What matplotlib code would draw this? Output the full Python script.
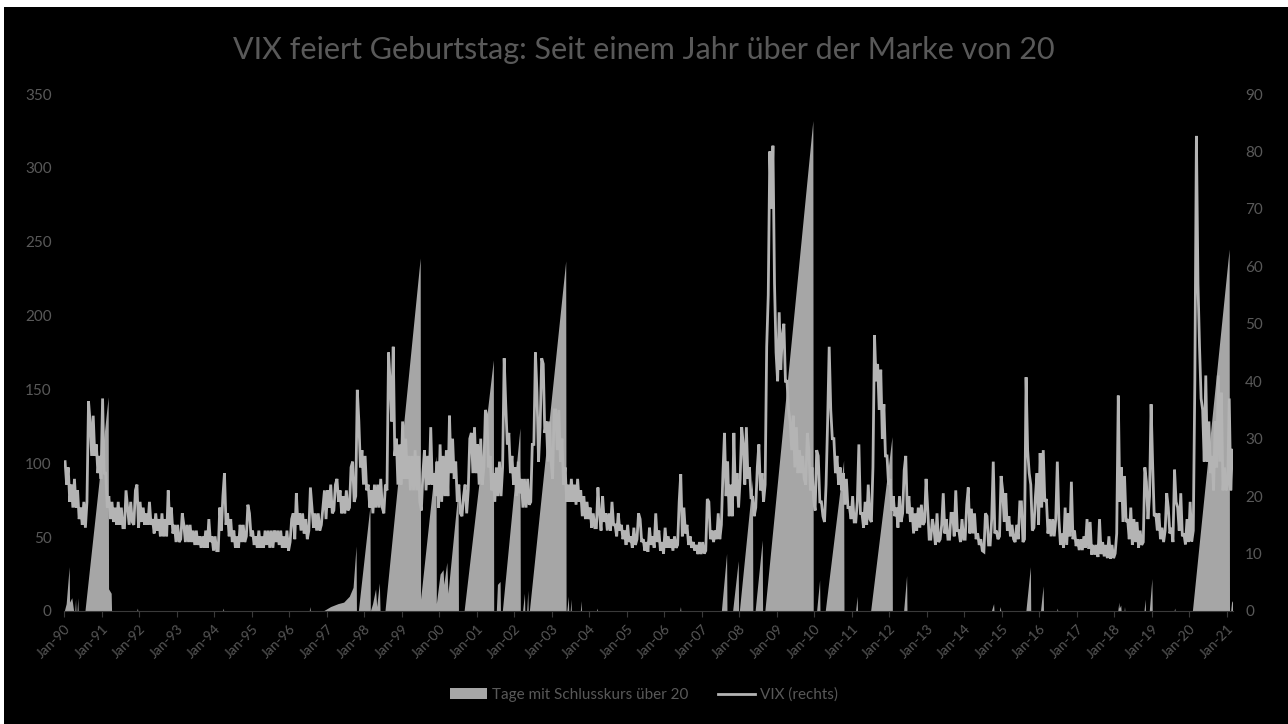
import numpy as np
import matplotlib
matplotlib.use("Agg")
import matplotlib.pyplot as plt
from matplotlib.patches import Rectangle, Patch
from matplotlib.lines import Line2D

plt.rcParams['font.family'] = ['Lato', 'DejaVu Sans']

TITLE = "VIX feiert Geburtstag: Seit einem Jahr über der Marke von 20"
LABEL_DAYS = "Tage mit Schlusskurs über 20"
LABEL_VIX = "VIX (rechts)"

START_YEAR = 1990

# VIX close: value in the first half / second half of each month
# (Jan 1990 .. Feb 2021)
vix_a = [
    26, 25, 22, 23, 21, 18, 19, 19, 33, 34, 29, 27,            # 1990
    37, 24, 20, 19, 18, 19, 18, 14.5, 18, 19, 15, 22,          # 1991
    19, 18, 17, 19, 16, 17, 16, 17, 16, 21, 18, 15,            # 1992
    15, 12.5, 15, 15, 15, 14, 14, 13, 13, 14, 16, 13,          # 1993
    13, 10.5, 14, 24, 17, 16, 14, 13, 15, 15, 13, 17,          # 1994
    14, 13, 14, 13, 14, 14, 14, 14, 14, 14, 13, 14,            # 1995
    12, 17, 20.5, 17, 17, 16, 14, 18, 17, 17, 15, 21,          # 1996
    21, 22, 17.5, 23, 21, 20, 21, 18, 26, 20, 33, 28,          # 1997
    27, 22, 21, 22, 22, 23, 17, 21, 40, 46, 30, 29,            # 1998
    33, 30, 27, 27, 28, 27, 17.5, 28, 27, 32, 24, 26,          # 1999
    29, 27, 28, 34, 30, 26, 22, 16.5, 22, 21, 31, 32,          # 2000
    29, 30, 25, 34, 27, 24, 25, 26, 25, 36, 31, 27,            # 2001
    25, 26, 23, 23, 23, 19, 29, 38, 32, 43, 33, 33,            # 2002
    23, 35, 35, 30, 25, 22, 23, 22, 23, 21, 20, 19,            # 2003
    18, 17, 14.5, 17, 20, 17, 17, 19, 15, 17, 15, 14,          # 2004
    15, 13, 14.5, 12.5, 16, 12.5, 12, 14.5, 13, 17, 14, 12,    # 2005
    14.5, 13, 12.5, 13, 11.5, 23.8, 18, 15, 13, 12, 11.5, 12,  # 2006
    12, 10.5, 19, 14, 14, 17, 15, 31, 26, 22, 31, 24,          # 2007
    23, 29, 32, 25, 20, 18, 29, 24, 22, 55, 70, 57,            # 2008
    40, 42, 50, 40, 33, 34, 32, 28, 27, 22, 28, 25,            # 2009
    17.5, 27, 19, 15.5, 33, 35, 30, 27, 25, 24, 23, 18,        # 2010
    20, 15.5, 29, 17, 19, 22, 15.5, 48, 43, 42, 36, 27,        # 2011
    23, 20, 18, 20, 17, 27, 20, 18, 17, 18, 18.5, 15.5,        # 2012
    18, 12.5, 14.5, 17, 12.5, 20.5, 16, 12.5, 17, 21, 14, 16,  # 2013
    12.5, 21.5, 17.8, 17, 13.5, 12.5, 10.3, 16.5, 11.5, 26, 14, 13,  # 2014
    21, 20.5, 16.5, 15, 12, 12.5, 19, 12.5, 28, 22, 14.5, 24,  # 2015
    27.5, 28, 19.5, 16, 16, 16, 16, 13.5, 18, 17, 22.5, 14,    # 2016
    12.5, 12.5, 13, 16, 15.5, 11.5, 11.5, 16, 12, 11.5, 13, 11.5,  # 2017
    10, 37.5, 25, 23.5, 16, 18, 16, 15.5, 14, 12, 22.5, 20,    # 2018
    25.5, 17, 17, 14.5, 14, 18, 14.5, 24.6, 18, 20.5, 13.5, 16,  # 2019
    19, 14, 82.7, 46, 35, 41, 33, 27, 33, 41, 38, 25,          # 2020
    22, 21,                                                    # 2021
]
vix_b = [
    22, 19, 18, 18, 16, 15, 14.5, 36.5, 27, 27, 24, 23,        # 1990
    24, 18, 16, 15.5, 15, 15, 14.5, 21, 15, 15.5, 21, 14.5,    # 1991
    15.5, 15, 15, 15, 13.5, 14, 13, 13, 13, 15, 13.5, 12,      # 1992
    12, 17, 12, 12, 12, 11.5, 11.5, 11, 11, 11, 12, 10.5,      # 1993
    10.5, 18, 20, 15, 13, 12, 11, 11, 12, 12, 18.5, 13,        # 1994
    11.5, 11, 11, 11, 11.5, 11, 11, 12, 11.5, 11, 11, 10.5,    # 1995
    16, 12.5, 15, 14, 13.5, 12.5, 21.5, 14.5, 14, 14, 18, 16,  # 1996
    18, 17, 22, 19, 17, 17, 17.5, 25, 19, 38.5, 25, 22,        # 1997
    21, 18, 17, 18, 18, 18, 22, 45, 33, 27, 22, 22,            # 1998
    23, 23, 21, 21, 21, 19, 24, 21, 22, 22, 20, 18,            # 1999
    19, 20, 20, 24, 23, 19, 17, 20, 17, 30, 24, 24,            # 2000
    22, 22, 35, 25, 21, 19, 20, 20, 44, 29, 24, 22,            # 2001
    20, 20.5, 18, 18, 18.5, 29, 45, 26, 44, 31, 26, 26,        # 2002
    35, 28, 26, 22, 19, 19, 19, 18.5, 19, 16.5, 16, 16,        # 2003
    14.5, 14.5, 21.5, 14, 15.5, 14, 14, 15, 13, 14, 12.5, 11.5,  # 2004
    12, 11, 11.5, 17, 12, 10.5, 10.3, 11.5, 11, 12, 10.5, 10,  # 2005
    11, 11, 10.5, 11, 19, 13, 13.5, 11.5, 11, 10.5, 9.9, 9.9,  # 2006
    10, 19.5, 12.5, 12, 12.5, 12.5, 24, 20, 16.5, 16.5, 20, 18,  # 2007
    32, 22, 23, 19.5, 16.5, 25, 21, 19, 46, 80, 81, 45,        # 2008
    52, 48, 40, 35, 28, 25, 24, 24, 23, 31, 21, 19.5,          # 2009
    28, 19, 16.5, 22, 46, 30, 24, 22, 21, 18.5, 18, 16,        # 2010
    15.5, 19, 17, 14.5, 15, 16, 25, 40, 35, 30, 27, 22,        # 2011
    17.5, 16.5, 14.5, 15.5, 24.5, 17, 15.5, 13.5, 14, 14.5, 15, 23,  # 2012
    12.5, 16, 11.5, 12, 15, 13.5, 12.5, 17, 13, 14, 12, 12.5,  # 2013
    18.5, 13.5, 13.5, 12.5, 11.5, 10.5, 17, 11.5, 16, 13.5, 12.5, 23.5,  # 2014
    15.5, 14, 13, 12.5, 15, 19, 12, 40.7, 24, 14, 20, 15,      # 2015
    18, 19, 13.5, 13, 13, 26, 11.5, 11, 11.5, 13, 12.5, 11.3,  # 2016
    10.6, 10.6, 11, 10.8, 9.8, 9.8, 9.4, 9.9, 9.5, 9.2, 9.1, 9.2,  # 2017
    13.5, 19, 15.5, 15.5, 12.5, 11.5, 12, 11, 11.5, 25, 16, 36,  # 2018
    16.5, 14, 12.5, 12, 20.5, 13.5, 12, 19, 14, 13, 11.6, 12,  # 2019
    12.1, 40, 57, 37, 26, 26, 24, 21, 25, 26, 21, 21,          # 2020
    37, 28,                                                    # 2021
]

# consecutive trading days with VIX close above 20 (date as decimal year, days)
count_dates = [
    1990.00, 1990.05, 1990.13, 1990.14, 1990.20, 1990.25,
    1990.28, 1990.30, 1990.31, 1990.34, 1990.36, 1990.37,
    1990.55, 1991.17, 1991.18, 1991.25, 1991.26,
    1991.93, 1991.95, 1991.96,
    1994.22, 1994.24, 1994.25,
    1996.53, 1996.55, 1996.56,
    1996.90, 1997.10, 1997.30, 1997.45, 1997.60, 1997.70, 1997.78, 1997.79,
    1997.84, 1998.15, 1998.16,
    1998.22, 1998.30, 1998.33, 1998.40, 1998.42,
    1998.55, 1999.49, 1999.50, 1999.91, 1999.92,
    2000.02, 2000.10, 2000.12, 2000.20, 2000.23, 2000.50, 2000.51,
    2000.66, 2001.44, 2001.45,
    2001.52, 2001.55, 2001.62, 2001.63,
    2001.68, 2002.15, 2002.16,
    2002.22, 2002.27, 2002.28, 2002.33, 2002.36, 2002.37,
    2002.40, 2003.37, 2003.38,
    2003.40, 2003.44, 2003.45, 2003.49, 2003.51, 2003.52,
    2003.76, 2003.78, 2003.79,
    2004.19, 2004.21, 2004.22,
    2006.41, 2006.43, 2006.44,
    2007.52, 2007.66, 2007.67,
    2007.82, 2007.97, 2007.98,
    2008.00, 2008.35, 2008.36,
    2008.42, 2008.61, 2008.62,
    2008.68, 2009.96, 2009.97,
    2010.06, 2010.14, 2010.15,
    2010.29, 2010.78, 2010.79,
    2011.10, 2011.14, 2011.15,
    2011.50, 2012.07, 2012.08,
    2012.38, 2012.46, 2012.47,
    2014.72, 2014.78, 2014.79,
    2014.93, 2014.96, 2014.97,
    2015.64, 2015.76, 2015.77,
    2016.03, 2016.10, 2016.11,
    2016.46, 2016.48, 2016.49,
    2018.09, 2018.12, 2018.13, 2018.17, 2018.18,
    2018.26, 2018.27, 2018.28,
    2018.79, 2018.82, 2018.83,
    2018.93, 2019.00, 2019.01,
    2019.59, 2019.61, 2019.62,
    2020.08, 2021.06, 2021.07,
    2021.10, 2021.13, 2021.15,
]
count_days = [
    0, 5, 30, 6, 9, 0,
    0, 8, 0, 0, 9, 0,
    0, 145, 15, 12, 0,
    0, 2, 0,
    0, 2, 0,
    0, 3, 0,
    0, 3, 5, 6, 10, 16, 44, 0,
    0, 71, 0,
    5, 15, 3, 19, 0,
    0, 239, 8, 105, 5,
    25, 28, 18, 33, 12, 82, 0,
    0, 170, 0,
    0, 18, 20, 0,
    0, 124, 0,
    0, 12, 0, 0, 14, 0,
    0, 237, 0,
    0, 10, 0, 0, 8, 0,
    0, 7, 0,
    0, 2, 0,
    0, 3, 0,
    0, 39, 0,
    0, 34, 0,
    0, 89, 0,
    0, 48, 0,
    0, 332, 0,
    0, 21, 0,
    0, 102, 0,
    0, 10, 0,
    0, 118, 0,
    0, 24, 0,
    0, 5, 0,
    0, 3, 0,
    0, 30, 0,
    0, 17, 0,
    0, 2, 0,
    0, 6, 2, 4, 0,
    0, 3, 0,
    0, 8, 0,
    0, 22, 0,
    0, 2, 0,
    0, 245, 0,
    0, 7, 6,
]

tick_years = list(range(1990, 2022))
tick_labels = ["Jan-%02d" % (y % 100) for y in tick_years]

AREA_COLOR = '#A6A6A6'
LINE_COLOR = '#B4B4B4'
TEXT_COLOR = '#595959'

# semi-monthly time axis for the VIX line
n = len(vix_a)
months = np.arange(n)
vix_t = np.empty(2 * n)
vix_t[0::2] = START_YEAR + (months + 0.25) / 12
vix_t[1::2] = START_YEAR + (months + 0.75) / 12
vix_v = np.empty(2 * n)
vix_v[0::2] = vix_a
vix_v[1::2] = vix_b

W, H = 1288, 724
fig = plt.figure(figsize=(W / 100, H / 100), dpi=100, facecolor='white')
fig.patches.append(Rectangle((4 / W, 0), 1, 1 - 7 / H, transform=fig.transFigure,
                             facecolor='black', edgecolor='none', zorder=-10))

ax = fig.add_axes([64.3 / W, (H - 611) / H, (1232.5 - 64.3) / W, (611 - 94) / H])
ax.set_facecolor('black')
ax.fill_between(count_dates, count_days, 0, color=AREA_COLOR, lw=0)
ax.set_xlim(1990, 2021.15)
ax.set_ylim(0, 350)
ax.set_yticks(range(0, 351, 50))

ax2 = ax.twinx()
ax2.plot(vix_t, vix_v, color=LINE_COLOR, lw=2.0, solid_joinstyle='miter')
ax2.set_ylim(0, 90)
ax2.set_yticks(range(0, 91, 10))

for a in (ax, ax2):
    for s in ('top', 'left', 'right'):
        a.spines[s].set_visible(False)
    a.spines['bottom'].set_color('#3a3a3a')
    a.tick_params(axis='y', length=0, pad=9, labelcolor=TEXT_COLOR, labelsize=11)
ax2.spines['bottom'].set_visible(False)

ax.set_xticks(tick_years)
ax.set_xticklabels(tick_labels, rotation=45, ha='right', rotation_mode='anchor')
ax.tick_params(axis='x', length=4, color='#3a3a3a', direction='out', pad=4,
               labelcolor=TEXT_COLOR, labelsize=10)

fig.text(0.5, 1 - 50 / H, TITLE, ha='center', va='center', color=TEXT_COLOR, fontsize=22)

handles = [Patch(facecolor=AREA_COLOR, edgecolor='none'),
           Line2D([], [], color=LINE_COLOR, lw=2)]
fig.legend(handles, [LABEL_DAYS, LABEL_VIX], loc='center', bbox_to_anchor=(0.5, 1 - 695 / H),
           ncol=2, frameon=False, labelcolor=TEXT_COLOR, fontsize=11,
           handlelength=2.4, handleheight=0.7, handletextpad=0.3, columnspacing=2.0)

fig.savefig('out.png', dpi=100, facecolor=fig.get_facecolor())
